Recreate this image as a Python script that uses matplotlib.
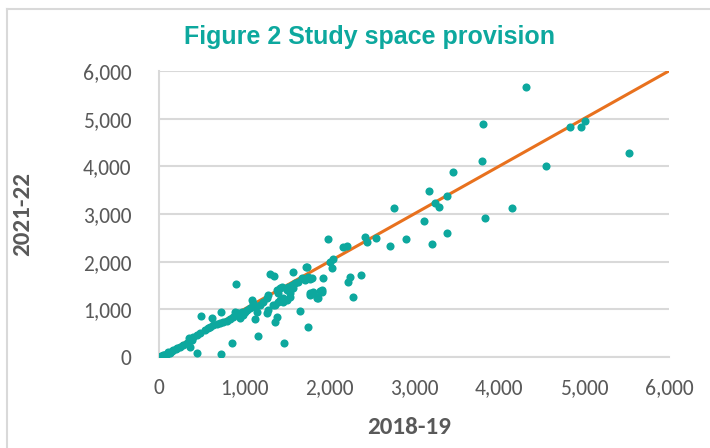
import matplotlib.pyplot as plt
from matplotlib.lines import Line2D
from matplotlib.ticker import FuncFormatter

# Datos (espacios de estudio)
x_1819 = [4320, 3810, 4840, 4965, 5010, 5530, 3800, 4560, 3460, 3180, 3385, 3245, 3295, 2760,
          4150, 3835, 3120, 3385, 2905, 2720, 3210,
          1990, 2425, 2445, 2555, 2170, 2210, 1730, 2010, 2050, 2030, 2245, 2225, 2285, 2375,
          1305, 1350, 1580, 1740, 1935, 1775, 1720, 1895, 1915, 1855, 1775, 1660, 1755, 1170,
          1475, 1390, 1365,
          1090, 1110, 1129, 1149, 1129, 1188, 1227, 1267, 1286, 1267, 1286, 1384, 1404, 1424,
          1443, 1502, 1522, 1541, 1561, 1580, 1600, 1463, 1502, 1541, 1365, 1404, 1639, 1678,
          1718, 1757, 1796, 1776, 1816, 1855, 1875, 1914, 894, 933, 973, 1012, 953, 992, 1424,
          1462, 1345,
          900, 490, 625, 735, 855, 735, 445,
          10, 50, 90, 130, 170, 208, 247, 286, 325, 357, 384, 365, 404, 443, 482, 541, 580, 600,
          639, 678, 718, 757, 796, 835, 875, 914, 1031, 1071, 20, 40, 60, 100, 150, 200, 30, 70]
y_2122 = [5660, 4890, 4820, 4820, 4960, 4280, 4120, 4010, 3890, 3490, 3375, 3235, 3150, 3120,
          3130, 2910, 2850, 2605, 2470, 2330, 2370,
          2470, 2510, 2420, 2490, 2310, 2330, 1890, 2000, 2050, 1860, 1685, 1580, 1265, 1720,
          1735, 1710, 1790, 1895, 1665, 1630, 1615, 1385, 1405, 1230, 1300, 965, 635, 440,
          300, 830, 740,
          1195, 1125, 1055, 950, 790, 1090, 1160, 1230, 1300, 916, 986, 1405, 1335, 1440,
          1475, 1405, 1475, 1335, 1510, 1440, 1545, 1230, 1195, 1265, 1090, 1160, 1580, 1650,
          1628, 1685, 1650, 1335, 1370, 1265, 1230, 1370, 950, 930, 950, 950, 811, 880, 1195,
          1160, 1090,
          1530, 865, 825, 955, 285, 55, 90,
          5, 42, 63, 90, 147, 182, 217, 252, 300, 392, 357, 217, 427, 461, 496, 566, 601, 636,
          671, 692, 720, 741, 762, 790, 846, 916, 986, 1020, 20, 30, 50, 110, 130, 170, 10, 40]

# Linea de referencia (y = x)
line_x = [0, 6000]
line_y = [0, 6000]

ticks = [0, 1000, 2000, 3000, 4000, 5000, 6000]

teal = '#0DA89E'
orange = '#E8711E'
gray = '#595959'
tickfont = ['Carlito', 'Lato', 'DejaVu Sans']

fig = plt.figure(figsize=(7.1, 4.48), dpi=100)
ax = fig.add_axes([0.224, 0.203, 0.718, 0.6385])

ax.scatter(x_1819, y_2122, s=34, color=teal, zorder=3, linewidths=0)
ax.plot(line_x, line_y, color=orange, linewidth=2.2, zorder=2)

ax.set_xlim(0, 6000)
ax.set_ylim(0, 6000)
ax.set_xticks(ticks)
ax.set_yticks(ticks)
fmt = FuncFormatter(lambda v, p: f'{int(v):,}')
ax.xaxis.set_major_formatter(fmt)
ax.yaxis.set_major_formatter(fmt)
ax.tick_params(length=0, labelcolor=gray)
ax.tick_params(axis='x', pad=15)
ax.tick_params(axis='y', pad=20)
for lbl in ax.get_xticklabels() + ax.get_yticklabels():
    lbl.set_family(tickfont)
    lbl.set_fontsize(15.5)

ax.grid(axis='y', color='#D9D9D9', linewidth=1.5, zorder=0)
ax.set_axisbelow(True)
for s in ['top', 'right']:
    ax.spines[s].set_visible(False)
for s in ['left', 'bottom']:
    ax.spines[s].set_color('#D9D9D9')
    ax.spines[s].set_linewidth(1.5)

ax.set_xlabel('2018-19', family=tickfont, fontsize=18, fontweight='bold', color=gray)
ax.set_ylabel('2021-22', family=tickfont, fontsize=18, fontweight='bold', color=gray)
ax.xaxis.set_label_coords(0.49, -0.248)
ax.yaxis.set_label_coords(-0.268, 0.5)
ax.xaxis.label.set_va('center')
ax.yaxis.label.set_va('center')

fig.text(0.52, 0.918, 'Figure 2 Study space provision', ha='center', va='center',
         family=['Liberation Sans Narrow', 'Liberation Sans'], fontsize=18,
         fontweight='bold', color=teal)

# Marco exterior
fig.add_artist(Line2D([0.01, 1.0], [0.98, 0.98], color='#D9D9D9', linewidth=1.5))
fig.add_artist(Line2D([0.01, 0.01], [0.0, 0.98], color='#D9D9D9', linewidth=1.5))

fig.savefig('out.png', dpi=100)
